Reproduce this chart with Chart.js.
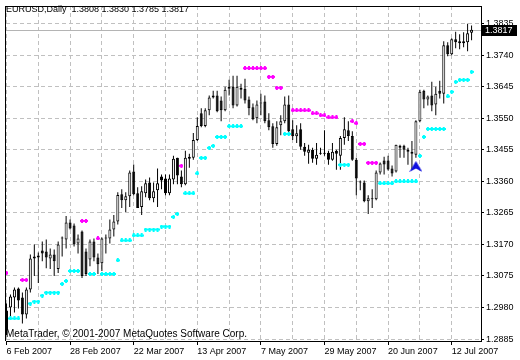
<!DOCTYPE html>
<html>
<head>
<meta charset="utf-8">
<script src="https://cdn.jsdelivr.net/npm/chart.js@4.4.1/dist/chart.umd.min.js"></script>
<style>
    body { margin: 0; background: #fff; }
    canvas { display: block; }
</style>
</head>
<body>
<canvas id="chart" width="520" height="360"></canvas>
<script>
const symbol = 'EURUSD'
const period = 'Daily'
const copyright = 'MetaTrader, \u00a9 2001-2007 MetaQuotes Software Corp.'

const dateLabels = ['6 Feb 2007', '28 Feb 2007', '22 Mar 2007', '13 Apr 2007', '7 May 2007', '29 May 2007', '20 Jun 2007', '12 Jul 2007']
const labelBars = [0, 16, 32, 48, 64, 80, 96, 112]
const gridBars = [0, 8, 16, 24, 32, 40, 48, 56, 64, 72, 80, 88, 96, 104, 112]
const yTickValues = [1.2885, 1.2980, 1.3075, 1.3170, 1.3265, 1.3360, 1.3455, 1.3550, 1.3645, 1.3740, 1.3835]

const opens = [
    1.2971, 1.2980, 1.3010, 1.3037, 1.3010, 1.2959, 1.3034, 1.3134, 1.3131, 1.3152,
    1.3149, 1.3128, 1.3140, 1.3096, 1.3188, 1.3185, 1.3236, 1.3227, 1.3173, 1.3209,
    1.3149, 1.3125, 1.3179, 1.3131, 1.3113, 1.3188, 1.3188, 1.3215, 1.3239, 1.3321,
    1.3303, 1.3315, 1.3390, 1.3324, 1.3283, 1.3324, 1.3357, 1.3309, 1.3333, 1.3375,
    1.3369, 1.3324, 1.3366, 1.3431, 1.3375, 1.3351, 1.3434, 1.3431, 1.3485, 1.3565,
    1.3527, 1.3574, 1.3613, 1.3619, 1.3604, 1.3574, 1.3645, 1.3645, 1.3589, 1.3636,
    1.3639, 1.3607, 1.3583, 1.3550, 1.3595, 1.3601, 1.3544, 1.3526, 1.3473, 1.3529,
    1.3541, 1.3592, 1.3517, 1.3496, 1.3517, 1.3464, 1.3446, 1.3455, 1.3428, 1.3443,
    1.3446, 1.3446, 1.3425, 1.3452, 1.3437, 1.3491, 1.3514, 1.3497, 1.3425, 1.3360,
    1.3357, 1.3300, 1.3306, 1.3306, 1.3387, 1.3423, 1.3423, 1.3399, 1.3390, 1.3467,
    1.3467, 1.3455, 1.3449, 1.3440, 1.3541, 1.3633, 1.3607, 1.3619, 1.3592, 1.3633,
    1.3624, 1.3770, 1.3743, 1.3788, 1.3782, 1.3776, 1.3779, 1.3808
]
const highs = [
    1.2992, 1.3019, 1.3040, 1.3040, 1.3025, 1.3040, 1.3140, 1.3170, 1.3146, 1.3179,
    1.3185, 1.3158, 1.3155, 1.3179, 1.3194, 1.3256, 1.3245, 1.3233, 1.3200, 1.3212,
    1.3158, 1.3185, 1.3188, 1.3143, 1.3191, 1.3200, 1.3245, 1.3259, 1.3327, 1.3336,
    1.3327, 1.3393, 1.3411, 1.3342, 1.3345, 1.3366, 1.3372, 1.3357, 1.3399, 1.3381,
    1.3381, 1.3381, 1.3437, 1.3431, 1.3393, 1.3452, 1.3443, 1.3506, 1.3553, 1.3580,
    1.3580, 1.3619, 1.3633, 1.3633, 1.3616, 1.3645, 1.3666, 1.3678, 1.3678, 1.3654,
    1.3669, 1.3616, 1.3595, 1.3604, 1.3624, 1.3619, 1.3565, 1.3535, 1.3541, 1.3559,
    1.3616, 1.3619, 1.3544, 1.3529, 1.3535, 1.3476, 1.3470, 1.3461, 1.3476, 1.3461,
    1.3514, 1.3452, 1.3476, 1.3455, 1.3497, 1.3553, 1.3541, 1.3511, 1.3431, 1.3363,
    1.3363, 1.3318, 1.3336, 1.3393, 1.3417, 1.3434, 1.3437, 1.3408, 1.3470, 1.3470,
    1.3470, 1.3461, 1.3482, 1.3544, 1.3636, 1.3636, 1.3619, 1.3660, 1.3645, 1.3663,
    1.3782, 1.3779, 1.3791, 1.3811, 1.3803, 1.3809, 1.3835, 1.3830
]
const lows = [
    1.2897, 1.2950, 1.2965, 1.2977, 1.2932, 1.2947, 1.3025, 1.3075, 1.3054, 1.3119,
    1.3098, 1.3096, 1.3075, 1.3084, 1.3134, 1.3158, 1.3215, 1.3164, 1.3143, 1.3069,
    1.3075, 1.3104, 1.3119, 1.3081, 1.3090, 1.3143, 1.3173, 1.3194, 1.3230, 1.3280,
    1.3268, 1.3283, 1.3318, 1.3280, 1.3259, 1.3312, 1.3303, 1.3297, 1.3283, 1.3336,
    1.3318, 1.3318, 1.3351, 1.3351, 1.3342, 1.3348, 1.3401, 1.3425, 1.3482, 1.3523,
    1.3523, 1.3559, 1.3610, 1.3568, 1.3541, 1.3571, 1.3619, 1.3580, 1.3586, 1.3610,
    1.3595, 1.3559, 1.3544, 1.3535, 1.3559, 1.3535, 1.3514, 1.3461, 1.3467, 1.3499,
    1.3535, 1.3505, 1.3485, 1.3476, 1.3455, 1.3437, 1.3413, 1.3416, 1.3410, 1.3440,
    1.3437, 1.3410, 1.3422, 1.3395, 1.3395, 1.3470, 1.3482, 1.3422, 1.3318, 1.3333,
    1.3297, 1.3262, 1.3280, 1.3303, 1.3381, 1.3381, 1.3393, 1.3375, 1.3387, 1.3431,
    1.3431, 1.3410, 1.3395, 1.3431, 1.3538, 1.3580, 1.3589, 1.3571, 1.3559, 1.3610,
    1.3595, 1.3737, 1.3740, 1.3761, 1.3758, 1.3764, 1.3752, 1.3785
]
const closes = [
    1.2912, 1.3013, 1.3034, 1.3001, 1.2959, 1.3034, 1.3128, 1.3128, 1.3137, 1.3143,
    1.3131, 1.3140, 1.3119, 1.3170, 1.3191, 1.3236, 1.3218, 1.3170, 1.3188, 1.3075,
    1.3081, 1.3179, 1.3131, 1.3110, 1.3188, 1.3191, 1.3215, 1.3239, 1.3319, 1.3303,
    1.3315, 1.3387, 1.3321, 1.3280, 1.3330, 1.3354, 1.3309, 1.3330, 1.3354, 1.3363,
    1.3324, 1.3369, 1.3428, 1.3378, 1.3351, 1.3431, 1.3428, 1.3485, 1.3527, 1.3527,
    1.3574, 1.3613, 1.3619, 1.3571, 1.3574, 1.3636, 1.3639, 1.3589, 1.3645, 1.3642,
    1.3604, 1.3580, 1.3547, 1.3592, 1.3598, 1.3541, 1.3523, 1.3473, 1.3523, 1.3541,
    1.3592, 1.3511, 1.3496, 1.3505, 1.3464, 1.3449, 1.3455, 1.3428, 1.3440, 1.3446,
    1.3443, 1.3425, 1.3449, 1.3443, 1.3491, 1.3517, 1.3497, 1.3425, 1.3369, 1.3357,
    1.3300, 1.3309, 1.3307, 1.3387, 1.3414, 1.3411, 1.3396, 1.3384, 1.3470, 1.3461,
    1.3455, 1.3449, 1.3443, 1.3541, 1.3630, 1.3607, 1.3616, 1.3589, 1.3624, 1.3624,
    1.3770, 1.3743, 1.3788, 1.3779, 1.3776, 1.3782, 1.3806, 1.3817
]
// parabolic SAR, one dot per bar
const sarValues = [
    1.3084, 1.2947, 1.2947, 1.2947, 1.3063, 1.3063, 1.2992, 1.2998, 1.2998, 1.3016,
    1.3025, 1.3025, 1.3025, 1.3025, 1.3051, 1.3060, 1.3090, 1.3090, 1.3090, 1.3241,
    1.3241, 1.3081, 1.3081, 1.3188, 1.3081, 1.3081, 1.3081, 1.3081, 1.3122, 1.3182,
    1.3182, 1.3182, 1.3197, 1.3197, 1.3197, 1.3215, 1.3215, 1.3215, 1.3215, 1.3224,
    1.3224, 1.3224, 1.3253, 1.3262, 1.3407, 1.3324, 1.3324, 1.3324, 1.3384, 1.3431,
    1.3431, 1.3461, 1.3467, 1.3494, 1.3494, 1.3494, 1.3526, 1.3526, 1.3526, 1.3526,
    1.3701, 1.3701, 1.3701, 1.3701, 1.3701, 1.3701, 1.3675, 1.3675, 1.3642, 1.3642,
    1.3503, 1.3503, 1.3574, 1.3574, 1.3574, 1.3574, 1.3574, 1.3565, 1.3565, 1.3559,
    1.3559, 1.3553, 1.3553, 1.3553, 1.3410, 1.3410, 1.3410, 1.3541, 1.3535, 1.3473,
    1.3473, 1.3416, 1.3416, 1.3416, 1.3354, 1.3354, 1.3354, 1.3354, 1.3360, 1.3360,
    1.3360, 1.3360, 1.3360, 1.3360, 1.3437, 1.3494, 1.3518, 1.3518, 1.3518, 1.3518,
    1.3518, 1.3616, 1.3630, 1.3660, 1.3666, 1.3666, 1.3666, 1.3690
]
const arrowBars = [103]
const arrowPrices = [1.3405]

const bodies = opens.map((o, i) => ({ x: i, y: [o, closes[i]] }))
const wicks = lows.map((l, i) => ({ x: i, y: [l, highs[i]] }))
const bodyColors = opens.map((o, i) => closes[i] > o ? '#ffffff' : '#000000')
const sarPoints = sarValues.map((v, i) => ({ x: i, y: v }))
const arrowPoints = arrowBars.map((b, i) => ({ x: b, y: arrowPrices[i] }))

function makeDot(color) {
    let c = document.createElement('canvas')
    c.width = 4
    c.height = 4
    let g = c.getContext('2d')
    g.fillStyle = color
    g.fillRect(1, 0, 2, 4)
    g.fillRect(0, 1, 4, 2)
    return c
}

function makeArrow(color) {
    let c = document.createElement('canvas')
    c.width = 13
    c.height = 11
    let g = c.getContext('2d')
    g.fillStyle = color
    g.beginPath()
    g.moveTo(6.5, 0)
    g.lineTo(13, 11)
    g.lineTo(6.5, 7.5)
    g.lineTo(0, 11)
    g.closePath()
    g.fill()
    return c
}

const magentaDot = makeDot('#ff00ff')
const aquaDot = makeDot('#00ffff')
const blueArrow = makeArrow('#1010e0')

const font9 = { family: 'Liberation Sans', size: 9 }
const gridGray = '#c0c0c0'

const mtFrame = {
    id: 'mtFrame',
    beforeDraw(chart) {
        const ctx = chart.ctx
        ctx.save()
        ctx.fillStyle = '#fff'
        ctx.fillRect(0, 0, chart.width, chart.height)
        ctx.restore()
    },
    beforeDatasetsDraw(chart) {
        // current price line
        const { ctx, chartArea, scales } = chart
        const py = Math.round(scales.y.getPixelForValue(closes[closes.length - 1])) + 0.5
        ctx.save()
        ctx.strokeStyle = '#b4b4b4'
        ctx.lineWidth = 1
        ctx.beginPath()
        ctx.moveTo(chartArea.left, py)
        ctx.lineTo(chartArea.right, py)
        ctx.stroke()
        ctx.restore()
    },
    afterDraw(chart) {
        const { ctx, chartArea, scales } = chart
        const last = closes.length - 1
        ctx.save()
        ctx.fillStyle = '#000'
        ctx.fillRect(chartArea.left - 1, chartArea.top, 1, chartArea.bottom - chartArea.top)
        ctx.fillRect(chartArea.left - 1, chartArea.top, chartArea.right - chartArea.left + 1, 1)

        ctx.font = '9px "Liberation Sans"'
        ctx.textBaseline = 'alphabetic'
        const header = `${symbol},${period}  ${opens[last].toFixed(4)} ${highs[last].toFixed(4)} ${lows[last].toFixed(4)} ${closes[last].toFixed(4)}`
        ctx.fillText(header, 6, 12)
        ctx.font = '10px "Liberation Sans"'
        ctx.fillText(copyright, 6, 337)

        // price label on the axis
        const py = Math.round(scales.y.getPixelForValue(closes[last]))
        ctx.fillRect(chartArea.right, py - 5, 36, 11)
        ctx.fillStyle = '#fff'
        ctx.font = '9px "Liberation Sans"'
        ctx.textBaseline = 'middle'
        ctx.fillText(closes[last].toFixed(4), chartArea.right + 4, py + 0.5)
        ctx.restore()
    }
}

new Chart(document.getElementById('chart'), {
    type: 'bar',
    data: {
        datasets: [
            {
                label: 'body',
                data: bodies,
                backgroundColor: bodyColors,
                borderColor: '#000',
                borderWidth: 1,
                borderSkipped: false,
                barThickness: 3,
                minBarLength: 1,
                inflateAmount: 0,
                grouped: false,
                order: 2
            },
            {
                label: 'wick',
                data: wicks,
                backgroundColor: '#000',
                borderWidth: 0,
                barThickness: 1,
                inflateAmount: 0,
                grouped: false,
                order: 3
            },
            {
                type: 'line',
                label: 'sar',
                data: sarPoints,
                showLine: false,
                pointRadius: 2,
                pointHoverRadius: 2,
                pointStyle: ctx => sarValues[ctx.dataIndex] > closes[ctx.dataIndex] ? magentaDot : aquaDot,
                order: 1
            },
            {
                type: 'line',
                label: 'signal',
                data: arrowPoints,
                showLine: false,
                pointRadius: 5,
                pointHoverRadius: 5,
                pointStyle: blueArrow,
                order: 0
            }
        ]
    },
    options: {
        responsive: false,
        devicePixelRatio: 1,
        animation: false,
        events: [],
        layout: { padding: { left: 3, top: 1, right: 0, bottom: 0 } },
        plugins: {
            legend: { display: false },
            tooltip: { enabled: false }
        },
        scales: {
            x: {
                type: 'linear',
                min: -0.125,
                max: 119.375,
                offset: false,
                afterBuildTicks: scale => { scale.ticks = gridBars.map(v => ({ value: v })) },
                afterFit: scale => {
                    scale.height = 19
                    scale.paddingLeft = 0
                    scale.paddingRight = 0
                },
                grid: {
                    color: gridGray,
                    offset: false,
                    tickLength: 4,
                    tickBorderDash: [],
                    tickColor: ctx => labelBars.includes(ctx.tick.value) ? '#000' : 'rgba(0,0,0,0)'
                },
                border: { display: true, color: '#000', dash: [4, 3] },
                ticks: {
                    autoSkip: false,
                    maxRotation: 0,
                    minRotation: 0,
                    align: 'start',
                    padding: 1,
                    color: '#000',
                    font: font9,
                    callback: v => {
                        const k = labelBars.indexOf(v)
                        return k >= 0 ? dateLabels[k] : ''
                    }
                }
            },
            y: {
                position: 'right',
                min: 1.28790625,
                max: 1.38884375,
                afterBuildTicks: scale => { scale.ticks = yTickValues.map(v => ({ value: v })) },
                afterFit: scale => {
                    scale.width = 39
                    scale.paddingTop = 0
                    scale.paddingBottom = 0
                },
                grid: {
                    color: gridGray,
                    tickLength: 3,
                    tickBorderDash: [],
                    tickColor: '#000'
                },
                border: { display: true, color: '#000', dash: [4, 3] },
                ticks: {
                    padding: 2,
                    crossAlign: 'near',
                    color: '#000',
                    font: font9,
                    callback: v => v.toFixed(4)
                }
            }
        }
    },
    plugins: [mtFrame]
})
</script>
</body>
</html>
